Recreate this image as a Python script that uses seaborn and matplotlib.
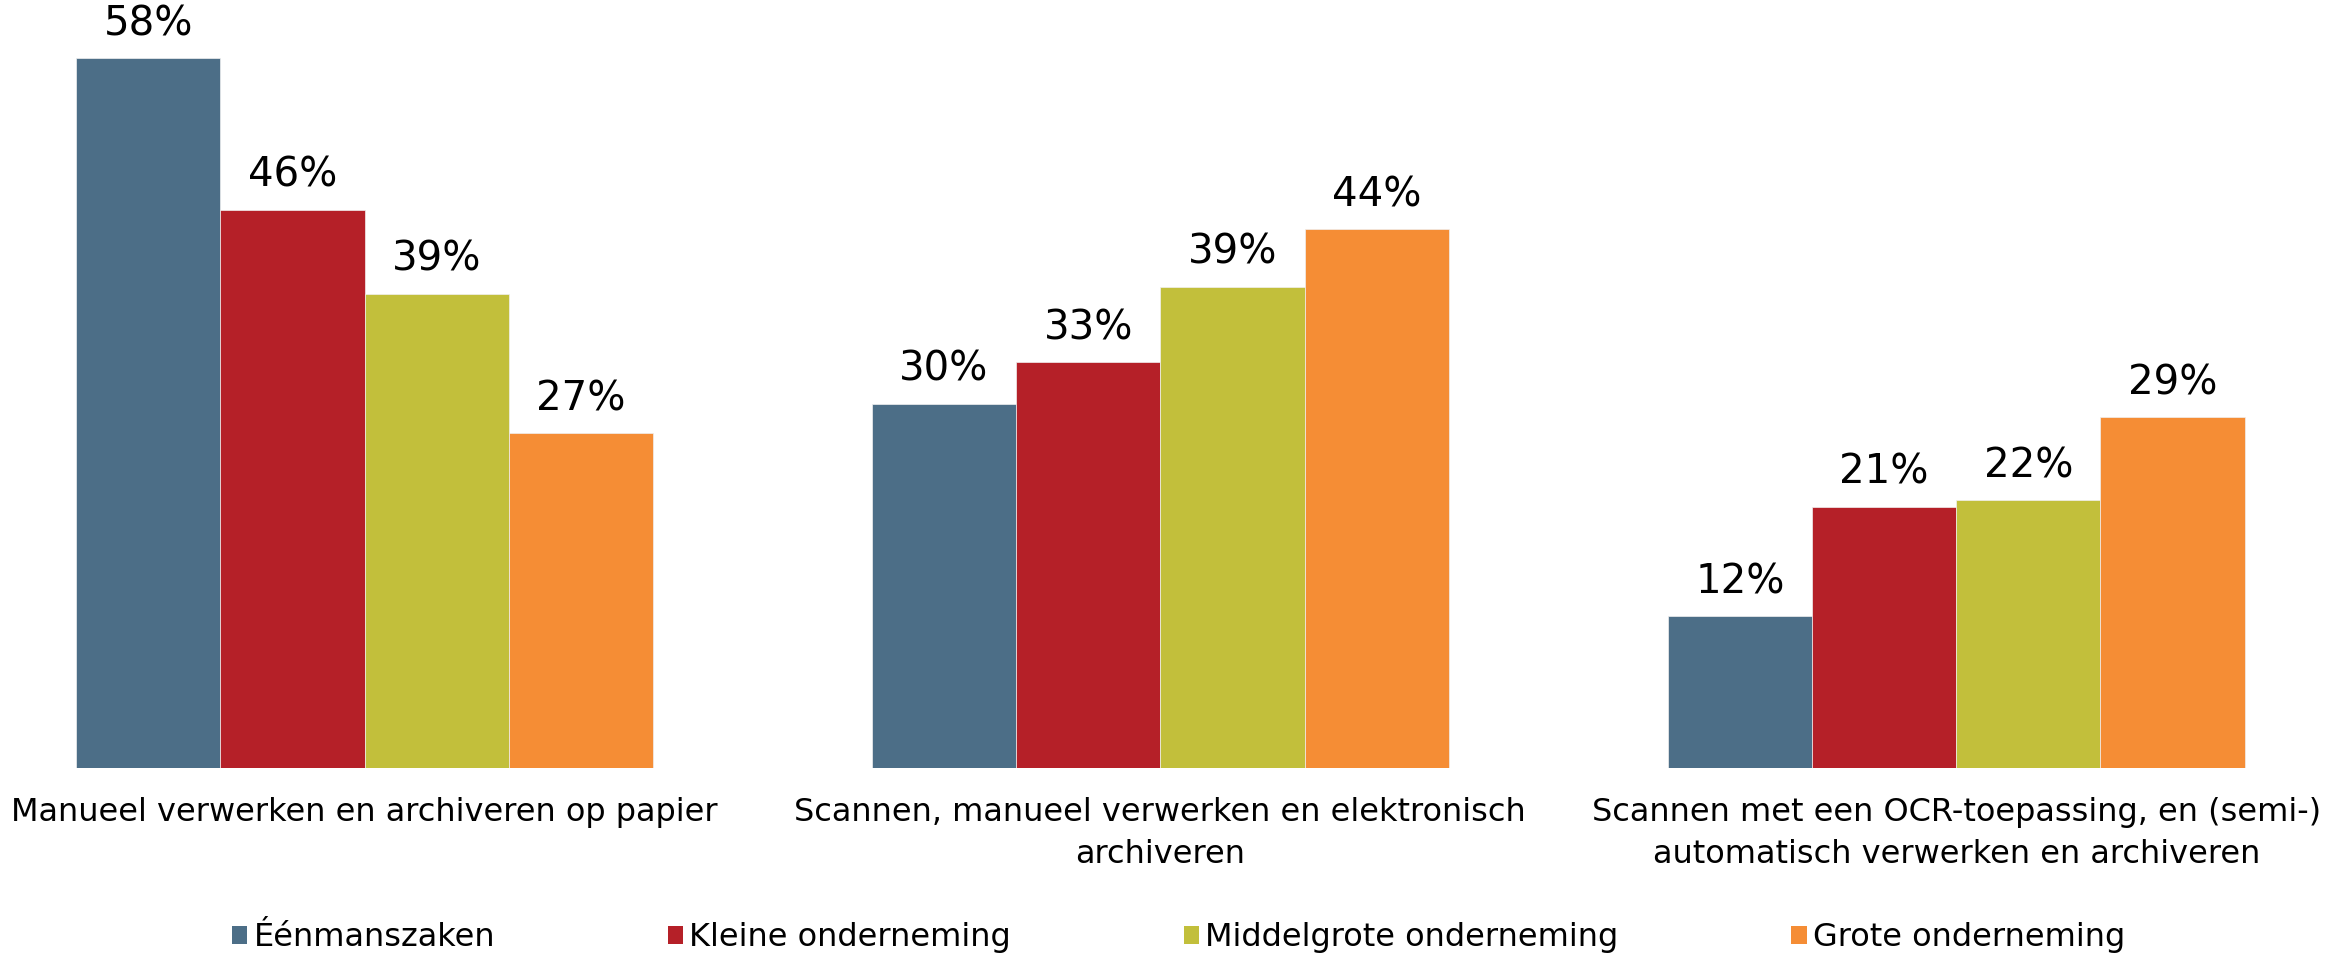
import matplotlib
matplotlib.use("Agg")
import matplotlib.pyplot as plt
from matplotlib import font_manager
from matplotlib.patches import Patch
import seaborn as sns
import pandas as pd

# Données
categories = [
    "Manueel verwerken en archiveren op papier",
    "Scannen, manueel verwerken en elektronisch\narchiveren",
    "Scannen met een OCR-toepassing, en (semi-)\nautomatisch verwerken en archiveren",
]
groups = ["Éénmanszaken", "Kleine onderneming", "Middelgrote onderneming", "Grote onderneming"]
eenmanszaken = [58.1, 29.8, 12.4]
kleine = [45.7, 33.2, 21.4]
middelgrote = [38.8, 39.4, 21.9]
grote = [27.4, 44.1, 28.7]
colors = ["#4C6E87", "#B52028", "#C2BF3B", "#F58D35"]

rows = []
for g, vals in zip(groups, [eenmanszaken, kleine, middelgrote, grote]):
    for c, v in zip(categories, vals):
        rows.append({"categorie": c, "grootte": g, "pct": v})
df = pd.DataFrame(rows)

sns.set_style("white")
installed = {f.name for f in font_manager.fontManager.ttflist}
if "Liberation Sans Narrow" in installed:
    font = "Liberation Sans Narrow"
    fs_lab, fs_txt = 36, 30
else:
    font = "DejaVu Sans"
    fs_lab, fs_txt = 29, 23
plt.rcParams["font.family"] = [font, "DejaVu Sans"]
plt.rcParams["text.color"] = "black"

fig = plt.figure(figsize=(23.43, 9.57), dpi=100)
ax = fig.add_axes([0, 189 / 957, 1, 768 / 957])

sns.barplot(data=df, x="categorie", y="pct", hue="grootte", order=categories,
            hue_order=groups, palette=colors, width=0.725, saturation=1,
            errorbar=None, ax=ax, legend=False, linewidth=0.5, edgecolor="#f0f0f0")

for cont in ax.containers:
    ax.bar_label(cont, labels=[f"{v:.0f}%" for v in cont.datavalues],
                 padding=10, fontsize=fs_lab, color="black")

ax.set_xlim(-0.458, 2.486)
ax.set_ylim(0, 62.85)
ax.set_xlabel("")
ax.set_ylabel("")
ax.set_yticks([])
ax.tick_params(axis="x", length=0, pad=21, labelsize=fs_txt, labelcolor="black")
for lbl in ax.get_xticklabels():
    lbl.set_linespacing(1.45)
sns.despine(ax=ax, left=True, bottom=True)

handles = [Patch(facecolor=c, edgecolor="none") for c in colors]
fig.legend(handles, groups, loc="center", bbox_to_anchor=(0.503, 0.02),
           ncol=4, frameon=False, fontsize=fs_txt, handlelength=0.48,
           handleheight=0.48, handletextpad=0.2, columnspacing=5.4)

plt.savefig("out.png", dpi=100)
